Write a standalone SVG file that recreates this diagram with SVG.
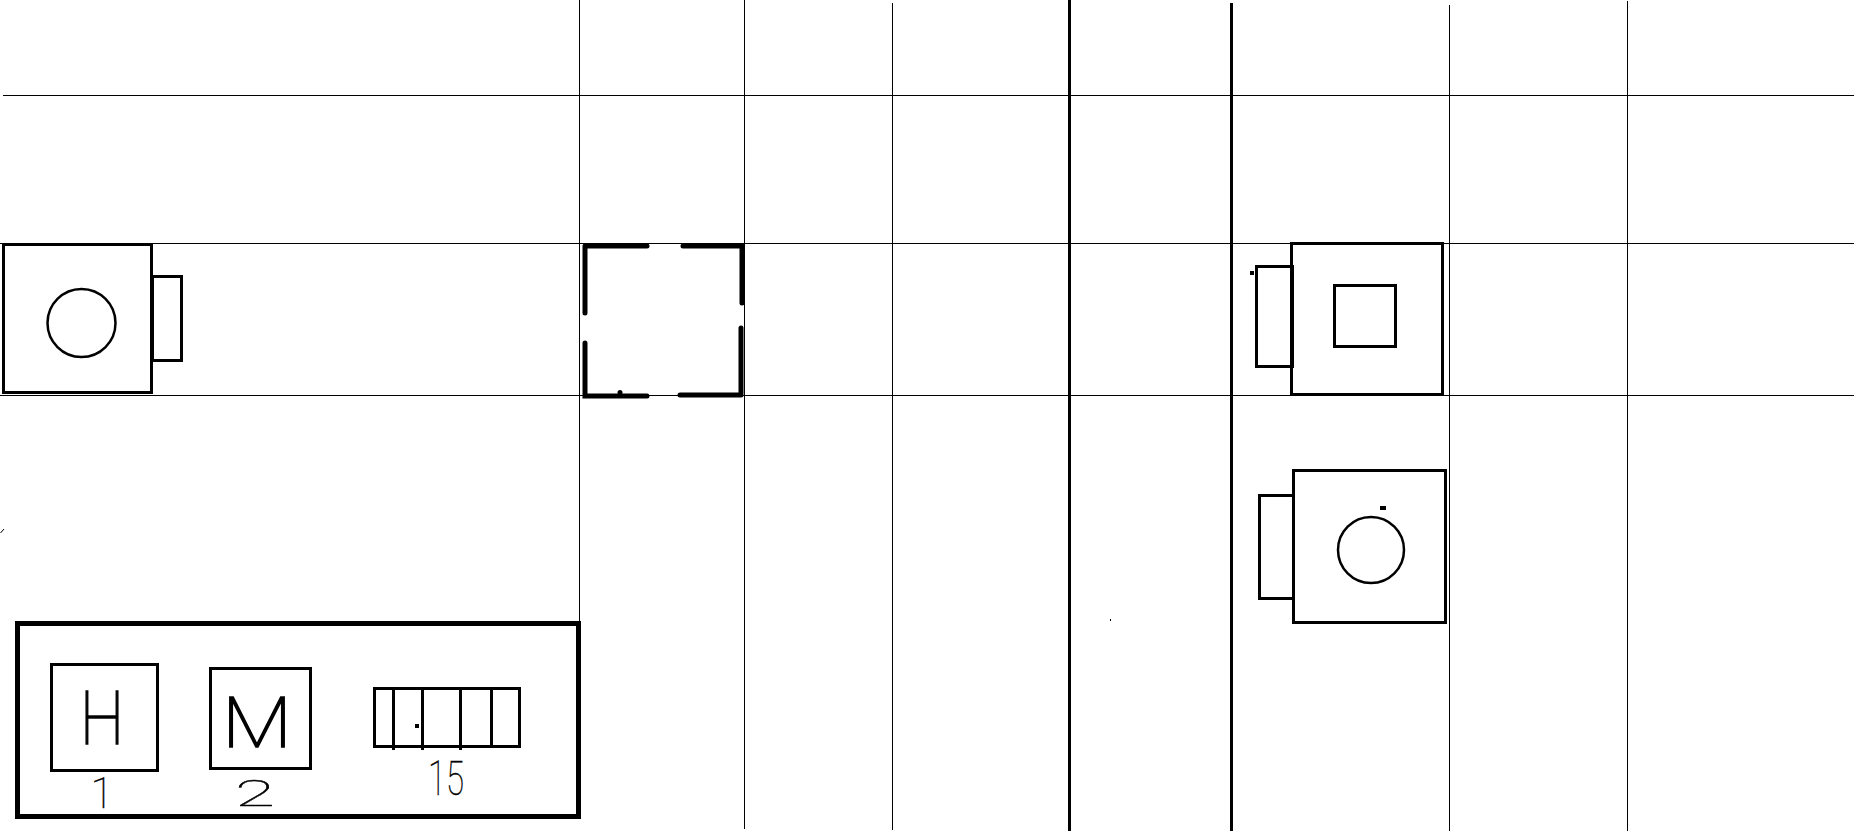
<svg xmlns="http://www.w3.org/2000/svg" width="1854" height="831" viewBox="0 0 1854 831">
<style>
.bg{fill:#fff}
.thin{stroke:#000;stroke-width:1;fill:none;shape-rendering:crispEdges}
.wall{stroke:#000;stroke-width:3;fill:none;shape-rendering:crispEdges}
.s2{stroke:#000;stroke-width:2.5;fill:none}
.s3{stroke:#000;stroke-width:3;fill:none;shape-rendering:crispEdges}
.s5{stroke:#000;stroke-width:5;fill:none;stroke-linecap:round}
.s4{stroke:#000;stroke-width:5;fill:none;shape-rendering:crispEdges}
.dot{fill:#000;shape-rendering:crispEdges}
.hand{font-family:Roboto,"Liberation Sans",sans-serif;font-weight:100;fill:#000;stroke:#000;stroke-width:0.4}
.big{stroke-width:1.6}
</style>
<rect class="bg" width="1854" height="831"/>
<g id="grid">
<path class="thin" d="M3 95.5H1854M0 243.5H1854M0 395.5H1854"/>
<path class="thin" d="M579.5 0V621M744.5 0V829M892.5 3V830M1449.5 5V831M1627.5 1V831"/>
<path class="wall" d="M1069.5 0V831M1231.5 3V831"/>
</g>
<g id="node-left">
<rect x="3.5" y="244.5" width="148" height="148" class="s3"/>
<rect x="152" y="276.5" width="29.5" height="84" class="s3"/>
<circle cx="81.5" cy="323" r="34" class="s2"/>
</g>
<g id="node-open">
<path class="s5" d="M585 246H647M683 246H742M742 246V303M741 328V394M585 246V313M585 343V396H647M680 395H741"/>
<circle cx="620" cy="392.500" r="2.500" fill="#000"/>
</g>
<g id="node-square">
<rect x="1291.500" y="243.500" width="151" height="150.500" class="s3"/>
<rect x="1256.500" y="266.500" width="35.500" height="100" class="s3"/>
<rect x="1334.500" y="285.500" width="61" height="61" class="s3"/>
<rect x="1250" y="271" width="4" height="4" class="dot"/>
</g>
<g id="node-round">
<rect x="1293.500" y="470.500" width="152" height="152" class="s3"/>
<rect x="1259.500" y="495.500" width="34" height="103" class="s3"/>
<circle cx="1371" cy="550" r="33" class="s2"/>
<rect x="1380" y="506" width="6" height="4" class="dot"/>
</g>
<g id="marks">
<path d="M0.500 533L4 529" stroke="#000" stroke-width="1" fill="none"/>
<rect x="1110" y="619" width="1" height="2" class="dot"/>
</g>
<g id="legend">
<rect x="17.500" y="623.500" width="561" height="192.500" class="s4"/>
<g id="legend-h">
<rect x="51.500" y="664.500" width="106" height="106" class="s3"/>
<text class="hand big" x="102" y="744" font-size="74" text-anchor="middle" textLength="44" lengthAdjust="spacingAndGlyphs">H</text>
<text class="hand" x="102" y="808" font-size="42" text-anchor="middle">1</text>
</g>
<g id="legend-m">
<rect x="210.500" y="668.500" width="100" height="100" class="s3"/>
<text class="hand big" x="257" y="747" font-size="70" text-anchor="middle" textLength="70" lengthAdjust="spacingAndGlyphs">M</text>
<text class="hand" x="255" y="806" font-size="36" text-anchor="middle" textLength="40" lengthAdjust="spacingAndGlyphs">2</text>
</g>
<g id="legend-15">
<rect x="374.500" y="688.500" width="144.500" height="58" class="s3"/>
<path class="s3" d="M393 688V750M422.500 688V750M460.500 688V750M491.500 688V747"/>
<rect x="415" y="724" width="4" height="4" class="dot"/>
<text class="hand" x="446" y="795" font-size="48" text-anchor="middle" textLength="36" lengthAdjust="spacingAndGlyphs">15</text>
</g>
</g>
</svg>
